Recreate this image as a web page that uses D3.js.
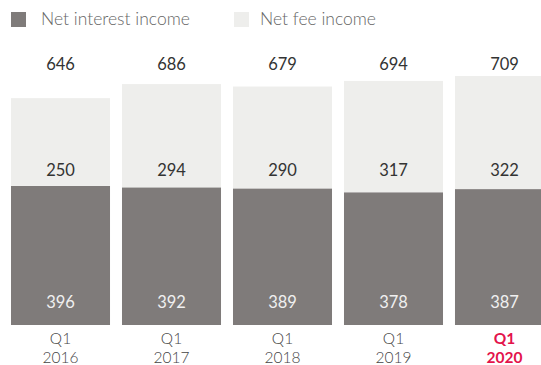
<!DOCTYPE html>
<html>
<head>
<meta charset="utf-8">
<script src="https://cdn.jsdelivr.net/npm/d3@7"></script>
<style>
  body { margin: 0; background: #fff; }
  text { font-family: Lato, "Open Sans", sans-serif; }
  .light { font-weight: 300; }
</style>
</head>
<body>
<svg width="541" height="365"></svg>
<script>
const quarters = ['Q1', 'Q1', 'Q1', 'Q1', 'Q1'];
const years = ['2016', '2017', '2018', '2019', '2020'];
const netInterest = [396, 392, 389, 378, 387];
const netFee = [250, 294, 290, 317, 322];
const totals = [646, 686, 679, 694, 709];
const seriesNames = ['Net interest income', 'Net fee income'];
const seriesColors = ['#7f7b7a', '#eeeeec'];

const svg = d3.select('svg');
const baseY = 325;

// last bar runs past the right edge, as in the original
const x = d3.scaleBand()
    .domain(years)
    .range([11, 554])
    .paddingInner(0.108)
    .paddingOuter(0);

const y = d3.scaleLinear()
    .domain([0, 709])
    .range([baseY, 76]);

const rows = years.map((yr, i) => ({ year: yr, q: quarters[i], interest: netInterest[i], fee: netFee[i], total: totals[i], last: i === years.length - 1 }));
const stacked = d3.stack().keys(['interest', 'fee'])(rows);

svg.append('g')
    .selectAll('g')
    .data(stacked)
    .enter()
    .append('g')
    .attr('fill', (d, i) => seriesColors[i])
    .selectAll('rect')
    .data(d => d)
    .enter()
    .append('rect')
    .attr('x', d => x(d.data.year))
    .attr('width', x.bandwidth())
    .attr('y', d => y(d[1]))
    .attr('height', d => y(d[0]) - y(d[1]));

// value labels
const labels = svg.append('g').attr('text-anchor', 'middle').attr('font-size', 16.5);
const cx = d => x(d.year) + x.bandwidth() / 2;

labels.selectAll('.tot').data(rows).enter().append('text')
    .attr('x', cx).attr('y', 70).attr('fill', '#333')
    .text(d => d.total);
labels.selectAll('.fee').data(rows).enter().append('text')
    .attr('x', cx).attr('y', 176).attr('fill', '#333')
    .text(d => d.fee);
labels.selectAll('.int').data(rows).enter().append('text')
    .attr('x', cx).attr('y', 308).attr('fill', '#f0f0f0')
    .text(d => d.interest);

// category labels
const cats = svg.append('g').attr('text-anchor', 'middle').attr('font-size', 15.5);
cats.selectAll('.q').data(rows).enter().append('text')
    .attr('class', d => d.last ? null : 'light')
    .attr('x', cx).attr('y', 344)
    .attr('fill', d => d.last ? '#e3134b' : '#444')
    .attr('font-weight', d => d.last ? 'bold' : null)
    .text(d => d.q);
cats.selectAll('.yr').data(rows).enter().append('text')
    .attr('class', d => d.last ? null : 'light')
    .attr('x', cx).attr('y', 363)
    .attr('fill', d => d.last ? '#e3134b' : '#444')
    .attr('font-weight', d => d.last ? 'bold' : null)
    .text(d => d.year);

// legend
const legendX = [11, 234];
const legend = svg.append('g').selectAll('g')
    .data(seriesNames)
    .enter()
    .append('g')
    .attr('transform', (d, i) => `translate(${legendX[i]},12)`);
legend.append('rect')
    .attr('width', 15).attr('height', 15)
    .attr('fill', (d, i) => seriesColors[i]);
legend.append('text')
    .attr('class', 'light')
    .attr('x', (d, i) => i === 0 ? 30 : 26).attr('y', 13)
    .attr('font-size', 17.5)
    .attr('fill', '#666')
    .text(d => d);
</script>
</body>
</html>
